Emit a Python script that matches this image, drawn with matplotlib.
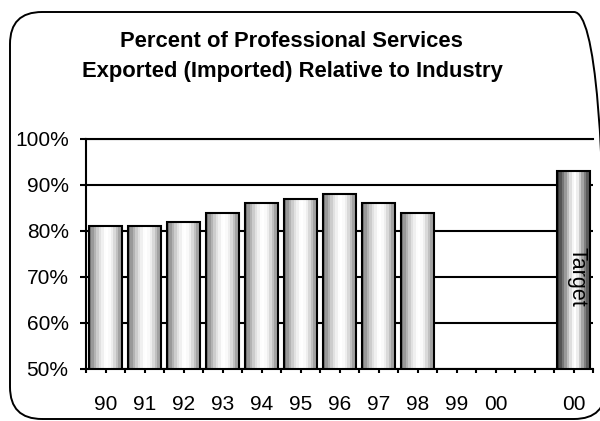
import numpy as np
import matplotlib
matplotlib.use("Agg")
import matplotlib.pyplot as plt
from matplotlib.patches import FancyBboxPatch, Rectangle
from matplotlib.ticker import FixedLocator, FuncFormatter

plt.rcParams['font.family'] = ['Liberation Sans', 'DejaVu Sans']

# Data
years = ["90", "91", "92", "93", "94", "95", "96", "97", "98", "99", "00", "", "00"]
share = [81, 81, 82, 84, 86, 87, 88, 86, 84, None, None, None, 93]
is_target = [False] * 12 + [True]
target_label = "Target"
title_lines = ["Percent of Professional Services",
               "Exported (Imported) Relative to Industry"]
y_ticks = [50, 60, 70, 80, 90, 100]

# Cylinder-like shading profiles (left to right)
shade_regular = [0.48, 0.60, 0.70, 0.80, 0.88, 0.94, 0.99, 1.0, 0.98, 0.93, 0.85, 0.75, 0.64, 0.52]
shade_target = [0.22, 0.33, 0.46, 0.60, 0.74, 0.87, 0.96, 1.0, 0.93, 0.80, 0.65, 0.50, 0.36, 0.25]

fig = plt.figure(figsize=(6.0, 4.21), dpi=100)

# Rounded outer frame
frame = FancyBboxPatch((0.10, 0.02), 5.96, 4.07,
                       boxstyle="round,pad=0,rounding_size=0.32",
                       transform=fig.dpi_scale_trans, facecolor="none",
                       edgecolor="black", linewidth=1.4, zorder=0)
fig.patches.append(frame)

ax = fig.add_axes([86 / 600, 1 - 369 / 421, (593 - 86) / 600, (369 - 139) / 421])
ax.set_facecolor("none")

x = np.arange(len(years))
bar_w = 0.85
y0 = 50
for xi, v, tgt in zip(x, share, is_target):
    if v is None:
        continue
    left = xi - bar_w / 2
    rect = Rectangle((left, y0), bar_w, v - y0, facecolor="none",
                     edgecolor="black", linewidth=1.5, zorder=4)
    ax.add_patch(rect)
    prof = np.array(shade_target if tgt else shade_regular)[None, :]
    im = ax.imshow(prof, cmap="gray", vmin=0, vmax=1, aspect="auto",
                   interpolation="nearest",
                   extent=[left, left + bar_w, y0, v], zorder=3)
    im.set_clip_path(rect)
    if tgt:
        ax.text(xi + 0.08, 70, target_label, rotation=-90, ha="center",
                va="center", fontsize=15.5, family="Liberation Sans", zorder=5)

ax.set_xlim(-0.5, len(years) - 0.5)
ax.set_ylim(50, 100)

# Gridlines
ax.set_axisbelow(True)
ax.yaxis.grid(True, color="black", linewidth=1.5)
ax.xaxis.grid(False)

# Axes styling
for side in ("left", "bottom", "top"):
    ax.spines[side].set_linewidth(1.5)
    ax.spines[side].set_color("black")
ax.spines["right"].set_visible(False)

ax.set_yticks(y_ticks)
ax.yaxis.set_major_formatter(FuncFormatter(lambda v, p: f"{int(v)}%"))
ax.tick_params(axis="y", length=4.5, width=1.5, pad=8, labelsize=15)

ax.set_xticks(x)
ax.set_xticklabels(years)
ax.xaxis.set_minor_locator(FixedLocator(np.arange(len(years) + 1) - 0.5))
ax.tick_params(axis="x", which="major", length=3, width=1.5, pad=16, labelsize=15)
ax.tick_params(axis="x", which="minor", length=3, width=1.5)

# Title
fig.text(291 / 600, 1 - 46.7 / 421, title_lines[0], ha="center", va="baseline",
         fontsize=15.8, fontweight="bold")
fig.text(292 / 600, 1 - 76.7 / 421, title_lines[1], ha="center", va="baseline",
         fontsize=15.8, fontweight="bold")

fig.savefig("out.png", dpi=100)
